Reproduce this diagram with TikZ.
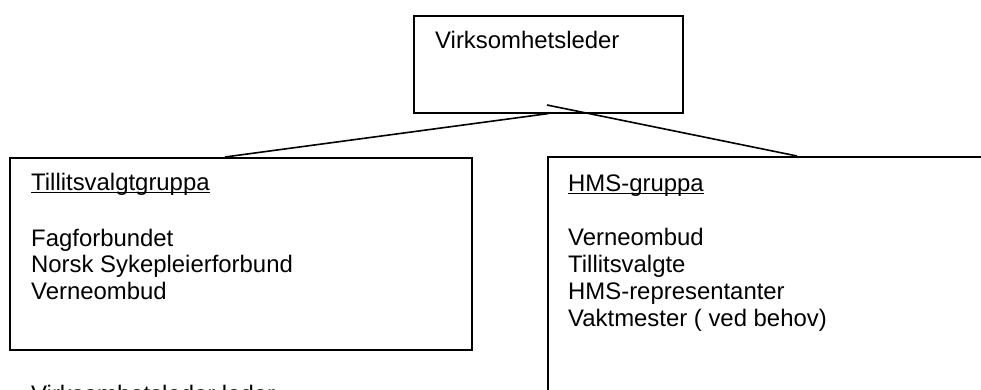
\documentclass[tikz,border=0pt]{standalone}
\usepackage{fontspec}
\setmainfont{Liberation Sans}
\begin{document}
\begin{tikzpicture}[x=1pt,y=-1pt,
  box/.style={draw=black,line width=1.6pt,fill=none,inner sep=0pt,anchor=north west},
  txt/.style={inner sep=0pt,anchor=base west,font=\fontsize{23.9}{27}\selectfont},
  conn/.style={draw=black,line width=1.6pt},
  uline/.style={draw=black,line width=1.3pt}]
\useasboundingbox (0,0) rectangle (981,390);
\clip (0,0) rectangle (981,390);
% boxes
\node[box,minimum width=269pt,minimum height=97pt] (top) at (413,15) {};
\node[box,minimum width=462pt,minimum height=192pt] (left) at (9,157) {};
\node[box,minimum width=470pt,minimum height=260pt] (right) at (547,156) {};
% texts
\node[txt] (toptxt) at (435,49) {Virksomhetsleder};
\node[txt] (lhead) at (31,190) {Tillitsvalgtgruppa};
\node[txt] (l1) at (31,246) {Fagforbundet};
\node[txt] (l2) at (31,272.5) {Norsk Sykepleierforbund};
\node[txt] (l3) at (31,299) {Verneombud};
\node[txt] (rhead) at (568,191) {HMS-gruppa};
\node[txt] (r1) at (568,245) {Verneombud};
\node[txt] (r2) at (568,272) {Tillitsvalgte};
\node[txt] (r3) at (568,299) {HMS-representanter};
\node[txt] (r4) at (568,326) {Vaktmester ( ved behov)};
\node[txt] (bottom) at (31,402) {Virksomhetsleder leder};
% underlines
\draw[uline] ([yshift=-2.5pt]lhead.base west) -- ([yshift=-2.5pt]lhead.base east);
\draw[uline] ([yshift=-2.5pt]rhead.base west) -- ([yshift=-2.5pt]rhead.base east);
% connectors
\coordinate (lend) at (225,157);
\coordinate (rstart) at (547,105);
\coordinate (rend) at (797,156);
\draw[conn] (top.south) -- (lend);
\draw[conn] (rstart) -- (rend);
\end{tikzpicture}
\end{document}
